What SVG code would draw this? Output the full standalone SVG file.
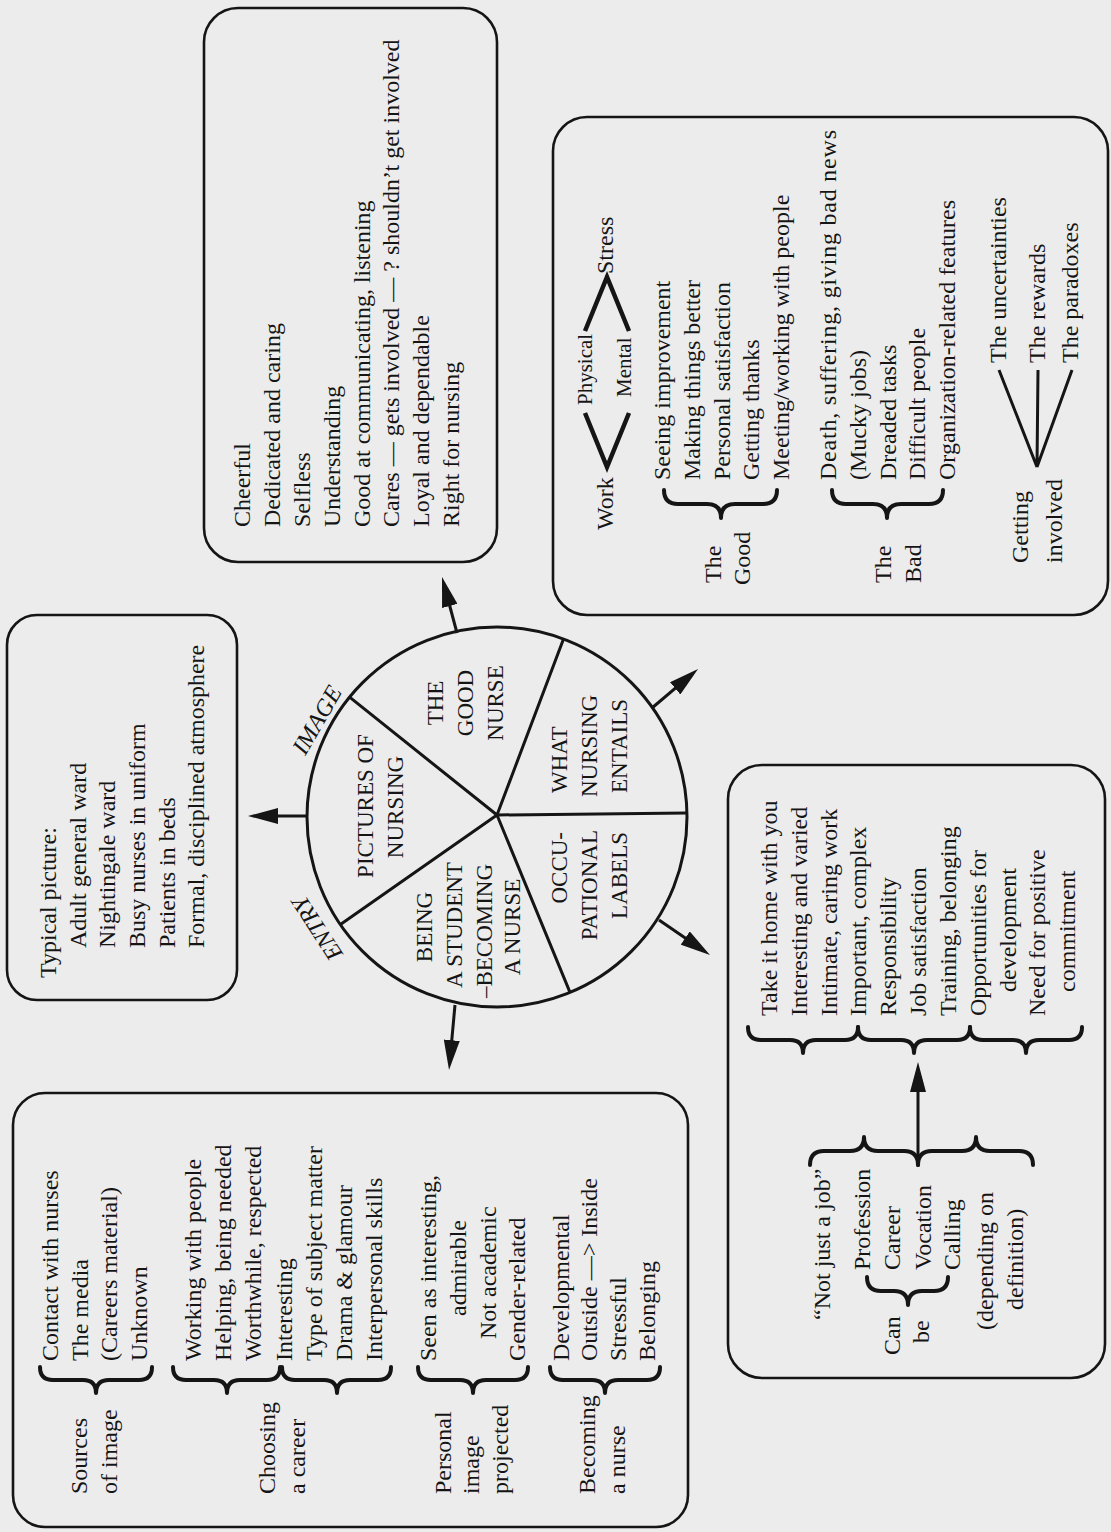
<svg xmlns="http://www.w3.org/2000/svg" width="1111" height="1532" viewBox="0 0 1111 1532">
<style>
.bg{fill:#ececec}
.box{fill:none;stroke:#151515;stroke-width:2.6}
.t{font-family:"Liberation Serif","Times New Roman",serif;font-size:24px;fill:#151515}
.w{font-size:23px}
.s{font-size:21px}
.it{font-style:italic}
.m{text-anchor:middle}
.e{text-anchor:end}
.br{fill:none;stroke:#151515;stroke-width:4;stroke-linejoin:round;stroke-linecap:round}
.ln{fill:none;stroke:#151515;stroke-width:3}
.ar{fill:none;stroke:#151515;stroke-width:3;marker-end:url(#ah)}
.chev{fill:none;stroke:#151515;stroke-width:4.5;stroke-linejoin:miter}
</style>
<defs>
<marker id="ah" markerUnits="userSpaceOnUse" markerWidth="30" markerHeight="16" refX="15" refY="8" orient="auto"><path d="M0,0 L30,8 L0,16 z" fill="#151515"/></marker>
</defs>
<rect class="bg" width="1111" height="1532"/>
<g transform="matrix(0,-1,1,0,0,1532)">

<g id="sources-box">
<rect class="box" x="5" y="13" width="434" height="675" rx="32"/>
<text class="t" x="38" y="87">Sources</text>
<text class="t" x="38" y="117">of image</text>
<path class="br" d="M165,40 Q152,40 152,53 L152,83 Q152,96 139,96 Q152,96 152,109 L152,139 Q152,152 165,152"/>
<text class="t" x="171" y="58">Contact with nurses</text>
<text class="t" x="171" y="88">The media</text>
<text class="t" x="171" y="117">(Careers material)</text>
<text class="t" x="171" y="147">Unknown</text>
<text class="t" x="38" y="275">Choosing</text>
<text class="t" x="38" y="305">a career</text>
<path class="br" d="M165,173 Q152,173 152,186 L152,214 Q152,227 139,227 Q152,227 152,240 L152,267 Q152,280 165,280"/>
<path class="br" d="M165,282 Q152,282 152,295 L152,324 Q152,337 139,337 Q152,337 152,350 L152,378 Q152,391 165,391"/>
<text class="t" x="171" y="201">Working with people</text>
<text class="t" x="171" y="231">Helping, being needed</text>
<text class="t" x="171" y="261">Worthwhile, respected</text>
<text class="t" x="171" y="292">Interesting</text>
<text class="t" x="171" y="322">Type of subject matter</text>
<text class="t" x="171" y="352">Drama &amp; glamour</text>
<text class="t" x="171" y="382">Interpersonal skills</text>
<text class="t" x="38" y="451">Personal</text>
<text class="t" x="38" y="479">image</text>
<text class="t" x="38" y="508">projected</text>
<path class="br" d="M165,418 Q152,418 152,431 L152,460 Q152,473 139,473 Q152,473 152,486 L152,515 Q152,528 165,528"/>
<text class="t" x="171" y="436">Seen as interesting,</text>
<text class="t" x="216" y="466">admirable</text>
<text class="t" x="193" y="496">Not academic</text>
<text class="t" x="171" y="525">Gender-related</text>
<text class="t" x="38" y="595">Becoming</text>
<text class="t" x="38" y="625">a nurse</text>
<path class="br" d="M165,550 Q152,550 152,563 L152,592 Q152,605 139,605 Q152,605 152,618 L152,647 Q152,660 165,660"/>
<text class="t" x="171" y="569">Developmental</text>
<text class="t" x="171" y="597">Outside —&gt; Inside</text>
<text class="t" x="171" y="626">Stressful</text>
<text class="t" x="171" y="655">Belonging</text>
</g>

<g id="typical-box">
<rect class="box" x="532" y="7" width="385" height="230" rx="30"/>
<text class="t" x="554" y="56">Typical picture:</text>
<text class="t" x="584" y="86">Adult general ward</text>
<text class="t" x="584" y="115">Nightingale ward</text>
<text class="t" x="584" y="145">Busy nurses in uniform</text>
<text class="t" x="584" y="175">Patients in beds</text>
<text class="t" x="584" y="204">Formal, disciplined atmosphere</text>
</g>

<g id="good-nurse-box">
<rect class="box" x="970" y="204" width="554" height="293" rx="34"/>
<text class="t" x="1005" y="250">Cheerful</text>
<text class="t" x="1005" y="280">Dedicated and caring</text>
<text class="t" x="1005" y="310">Selfless</text>
<text class="t" x="1005" y="340">Understanding</text>
<text class="t" x="1005" y="370">Good at communicating, listening</text>
<text class="t" x="1005" y="399">Cares — gets involved — ? shouldn’t get involved</text>
<text class="t" x="1005" y="429">Loyal and dependable</text>
<text class="t" x="1005" y="459">Right for nursing</text>
</g>

<g id="entails-box">
<rect class="box" x="917" y="553" width="498" height="555" rx="34"/>
<text class="t" x="1002" y="613">Work</text>
<path class="chev" d="M1119,585 L1065,607 L1119,629"/>
<text class="t s" x="1127" y="592">Physical</text>
<text class="t s" x="1135" y="631">Mental</text>
<path class="chev" d="M1201,585 L1255,607 L1201,629"/>
<text class="t" x="1258" y="613">Stress</text>
<text class="t" x="949" y="721">The</text>
<text class="t" x="947" y="750">Good</text>
<path class="br" d="M1042,664 Q1028,664 1028,678 L1028,707 Q1028,721 1014,721 Q1028,721 1028,735 L1028,763 Q1028,777 1042,777"/>
<text class="t" x="1052" y="670">Seeing improvement</text>
<text class="t" x="1052" y="700">Making things better</text>
<text class="t" x="1052" y="730">Personal satisfaction</text>
<text class="t" x="1052" y="759">Getting thanks</text>
<text class="t" x="1052" y="789">Meeting/working with people</text>
<text class="t" x="949" y="891">The</text>
<text class="t" x="949" y="921">Bad</text>
<path class="br" d="M1042,832 Q1028,832 1028,846 L1028,873 Q1028,887 1014,887 Q1028,887 1028,901 L1028,929 Q1028,943 1042,943"/>
<text class="t" x="1052" y="836" textLength="350" lengthAdjust="spacing">Death, suffering, giving bad news</text>
<text class="t" x="1052" y="866">(Mucky jobs)</text>
<text class="t" x="1052" y="896">Dreaded tasks</text>
<text class="t" x="1052" y="925">Difficult people</text>
<text class="t" x="1052" y="955">Organization-related features</text>
<text class="t" x="969" y="1028">Getting</text>
<text class="t" x="969" y="1062">involved</text>
<path class="ln" d="M1065,1037 L1162,999 M1065,1037 L1162,1038 M1065,1037 L1162,1072"/>
<text class="t" x="1169" y="1006">The uncertainties</text>
<text class="t" x="1169" y="1045">The rewards</text>
<text class="t" x="1169" y="1078">The paradoxes</text>
</g>

<g id="occupational-box">
<rect class="box" x="154" y="728" width="613" height="377" rx="34"/>
<text class="t" x="212" y="830">“Not just a job”</text>
<text class="t" x="177" y="900">Can</text>
<text class="t" x="189" y="929">be</text>
<path class="br" d="M255,867 Q241,867 241,881 L241,894 Q241,908 227,908 Q241,908 241,922 L241,934 Q241,948 255,948"/>
<text class="t" x="262" y="870">Profession</text>
<text class="t" x="262" y="900">Career</text>
<text class="t" x="262" y="931">Vocation</text>
<text class="t" x="262" y="960">Calling</text>
<text class="t" x="202" y="993">(depending on</text>
<text class="t" x="222" y="1023">definition)</text>
<path class="br" d="M367,810 Q381,810 381,824 L381,850 Q381,864 395,864 Q381,864 381,878 L381,904 Q381,918 367,918"/>
<path class="br" d="M367,918 Q381,918 381,932 L381,962 Q381,976 395,976 Q381,976 381,990 L381,1019 Q381,1033 367,1033"/>
<path class="br" d="M505,748 Q492,748 492,761 L492,790 Q492,803 479,803 Q492,803 492,816 L492,845 Q492,858 505,858"/>
<path class="br" d="M505,858 Q492,858 492,871 L492,901 Q492,914 479,914 Q492,914 492,927 L492,957 Q492,970 505,970"/>
<path class="br" d="M505,970 Q492,970 492,983 L492,1013 Q492,1026 479,1026 Q492,1026 492,1039 L492,1069 Q492,1082 505,1082"/>
<text class="t" x="516" y="777">Take it home with you</text>
<text class="t" x="516" y="807">Interesting and varied</text>
<text class="t" x="516" y="837">Intimate, caring work</text>
<text class="t" x="516" y="866">Important, complex</text>
<text class="t" x="516" y="896">Responsibility</text>
<text class="t" x="516" y="926">Job satisfaction</text>
<text class="t" x="516" y="956">Training, belonging</text>
<text class="t" x="516" y="986">Opportunities for</text>
<text class="t" x="540" y="1016">development</text>
<text class="t" x="516" y="1045">Need for positive</text>
<text class="t" x="540" y="1075">commitment</text>
</g>

<g id="wheel">
<circle class="ln" cx="715" cy="497" r="190"/>
<path class="ln" d="M717,497 L834.8,349.6 M717,497 L893,563.5 M717,497 L719,687 M717,497 L539.6,570 M717,497 L607.4,340.4"/>
<text class="t w m" x="726" y="373">PICTURES OF</text>
<text class="t w m" x="725" y="403">NURSING</text>
<text class="t w m" x="829" y="443">THE</text>
<text class="t w m" x="829" y="473">GOOD</text>
<text class="t w m" x="829" y="503">NURSE</text>
<text class="t w" x="739" y="567">WHAT</text>
<text class="t w" x="735" y="597">NURSING</text>
<text class="t w" x="739" y="627">ENTAILS</text>
<text class="t w e" x="700" y="567">OCCU-</text>
<text class="t w e" x="702" y="597">PATIONAL</text>
<text class="t w e" x="700" y="627">LABELS</text>
<text class="t w m" x="605" y="432">BEING</text>
<text class="t w m" x="607" y="462">A STUDENT</text>
<text class="t w m" x="601" y="492">–BECOMING</text>
<text class="t w m" x="605" y="520">A NURSE</text>
<text class="t it m" transform="translate(808,324) rotate(30)">IMAGE</text>
<text class="t it m" transform="translate(608,324) rotate(-33)">ENTRY</text>
</g>

<g id="connectors">
<path class="ar" d="M716,307 L716,263"/>
<path class="ar" d="M899,457 L940.5,445.9"/>
<path class="ar" d="M824,652 L853.3,686.6"/>
<path class="ar" d="M612,659 L585.5,697.6"/>
<path class="ar" d="M527,455 L476.9,450.4"/>
<path class="ar" d="M372,918 L455,918"/>
</g>

</g>
</svg>
